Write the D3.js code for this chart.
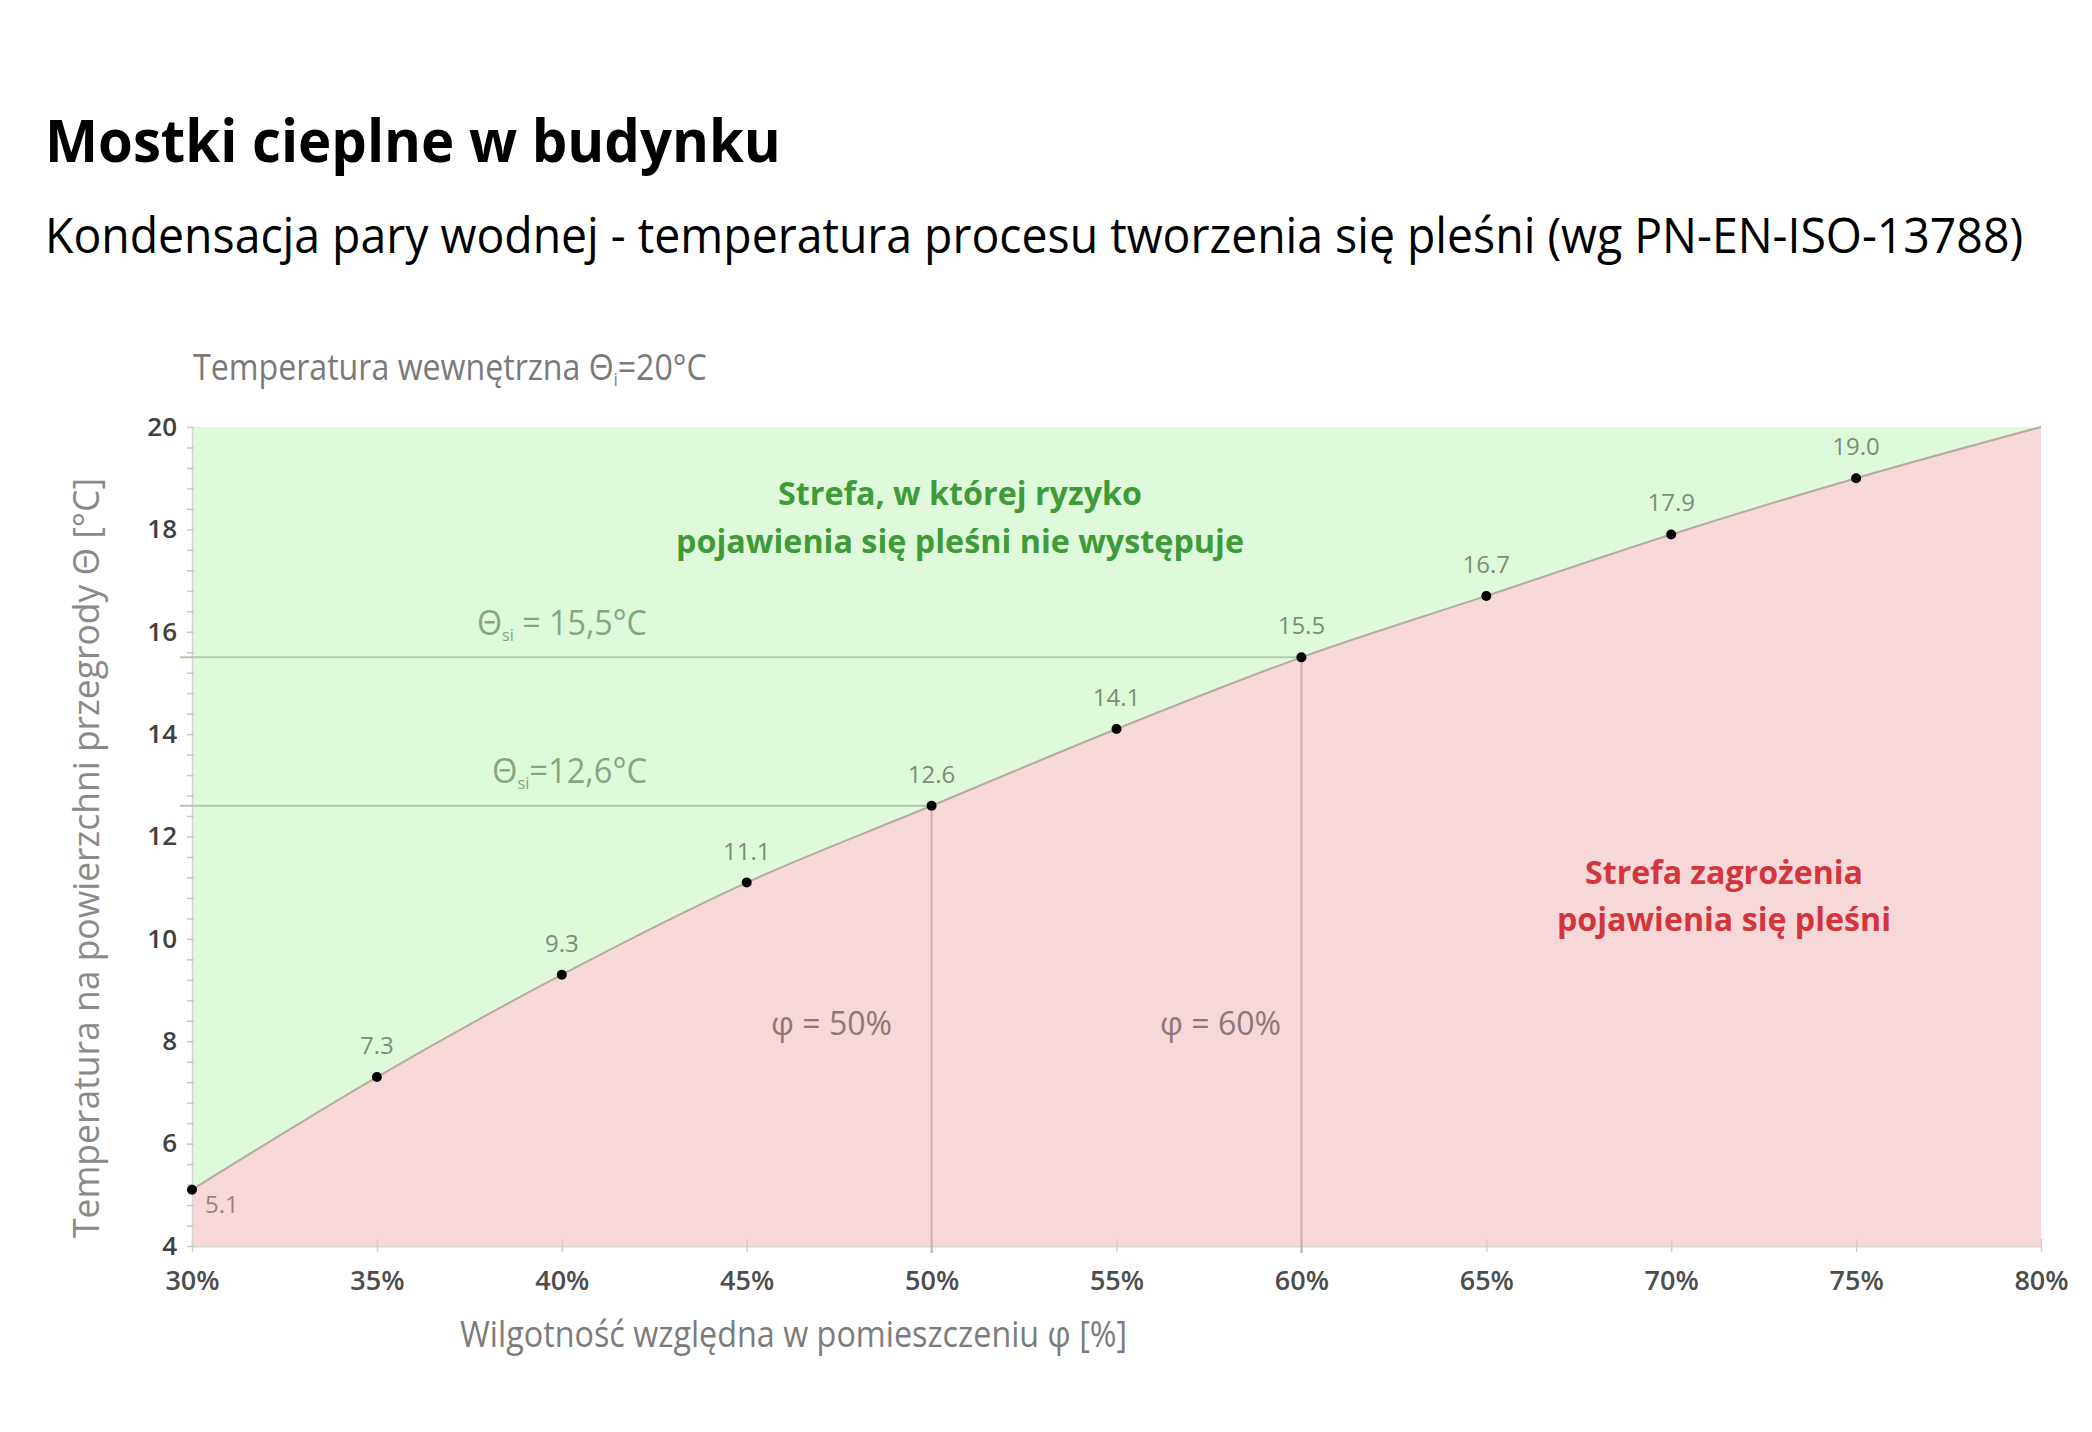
<!DOCTYPE html>
<html>
<head>
<meta charset="utf-8">
<script src="https://cdn.jsdelivr.net/npm/d3@7"></script>
<style>
  body { margin: 0; background: #fff; }
  svg text { font-family: "Open Sans", sans-serif; }
</style>
</head>
<body>
<div id="container"></div>
<script>
/*** DATA ***/
const humidity = [30, 35, 40, 45, 50, 55, 60, 65, 70, 75, 80];
const moldTemp = [5.1, 7.3, 9.3, 11.1, 12.6, 14.1, 15.5, 16.7, 17.9, 19.0, 20.0];
const dotCount = 10; // 80% point has no marker
const xTicks = [30, 35, 40, 45, 50, 55, 60, 65, 70, 75, 80];
const yTicks = [4, 6, 8, 10, 12, 14, 16, 18, 20];
const refHumidity = [50, 60];
const refTemp = [12.6, 15.5];

const title = "Mostki cieplne w budynku";
const subtitle = "Kondensacja pary wodnej - temperatura procesu tworzenia się pleśni (wg PN-EN-ISO-13788)";
const xTitle = "Wilgotność względna w pomieszczeniu φ [%]";
const yTitle = "Temperatura na powierzchni przegrody Θ [°C]";
const greenNote = ["Strefa, w której ryzyko", "pojawienia się pleśni nie występuje"];
const redNote = ["Strefa zagrożenia", "pojawienia się pleśni"];

/*** LAYOUT ***/
const width = 2092, height = 1432;
const margin = { top: 427, right: 51, bottom: 186, left: 192 };

const svg = d3.select("#container").append("svg")
  .attr("width", width)
  .attr("height", height);

const x = d3.scaleLinear().domain([30, 80]).range([margin.left, width - margin.right]);
const y = d3.scaleLinear().domain([4, 20]).range([height - margin.bottom, margin.top]);

const pts = humidity.map((h, i) => ({ h, t: moldTemp[i] }));

// squeeze plain text to a measured width
function fit(sel, w) {
  return sel.attr("textLength", w).attr("lengthAdjust", "spacingAndGlyphs");
}
// squeeze text horizontally with a transform, anchored at its left edge
function squeeze(t, x0, y0, w) {
  const bw = t.node().getBBox().width;
  t.attr("x", 0).attr("y", 0)
    .attr("transform", `translate(${x0},${y0}) scale(${w / bw},1)`);
}

// titles
const tt = svg.append("text").text(title)
  .style("font-size", "60px").style("font-weight", 700).attr("fill", "#000");
squeeze(tt, 45, 162, 736);

const st = svg.append("text").text(subtitle)
  .style("font-size", "49px").attr("fill", "#000");
squeeze(st, 45, 253, 1979);

// background zones
svg.append("rect")
  .attr("x", x(30)).attr("y", y(20))
  .attr("width", x(80) - x(30)).attr("height", y(4) - y(20))
  .attr("fill", "#defadb");

const area = d3.area()
  .x(d => x(d.h)).y0(y(4)).y1(d => y(d.t))
  .curve(d3.curveMonotoneX);

svg.append("path").datum(pts)
  .attr("d", area)
  .attr("fill", "#f7d8d8");

// axes
const xAxis = svg.append("g")
  .attr("transform", `translate(0,${y(4)})`)
  .call(d3.axisBottom(x).tickValues(xTicks).tickFormat(d => d + "%")
    .tickSizeInner(6).tickSizeOuter(0).tickPadding(19));
xAxis.select(".domain").attr("stroke", "#d6d6d6").attr("stroke-width", 2);
xAxis.selectAll(".tick line").attr("y1", -7).attr("stroke", "#cfcfcf").attr("stroke-width", 1.5);
xAxis.selectAll(".tick text")
  .style("font-family", "'Open Sans', sans-serif")
  .style("font-size", "27px").style("font-weight", 600).attr("fill", "#4d4d4d");

const yMinor = svg.append("g")
  .attr("transform", `translate(${x(30)},0)`)
  .call(d3.axisLeft(y).tickValues(d3.range(0, 41).map(i => 4 + i * 0.4))
    .tickFormat("").tickSizeInner(5).tickSizeOuter(0));
yMinor.select(".domain").attr("stroke", "#d6d6d6").attr("stroke-width", 1.5);
yMinor.selectAll(".tick line").attr("x2", -5).attr("x1", 2).attr("stroke", "#c8c8c8").attr("stroke-width", 1.5);

const yAxis = svg.append("g")
  .attr("transform", `translate(${x(30)},0)`)
  .call(d3.axisLeft(y).tickValues(yTicks).tickSizeInner(0).tickSizeOuter(0).tickPadding(15));
yAxis.select(".domain").remove();
yAxis.selectAll(".tick text")
  .style("font-family", "'Open Sans', sans-serif")
  .style("font-size", "26px").style("font-weight", 600).attr("fill", "#404040");

// reference lines
refTemp.forEach((t, i) => {
  svg.append("line")
    .attr("x1", x(30) - 12).attr("x2", x(refHumidity[i]))
    .attr("y1", y(t)).attr("y2", y(t))
    .attr("stroke", "#b2caab").attr("stroke-width", 2);
  svg.append("line")
    .attr("x1", x(refHumidity[i])).attr("x2", x(refHumidity[i]))
    .attr("y1", y(t)).attr("y2", y(4) + 7)
    .attr("stroke", "#cdb0b4").attr("stroke-width", 2);
});

// curve
const line = d3.line().x(d => x(d.h)).y(d => y(d.t)).curve(d3.curveMonotoneX);
svg.append("path").datum(pts)
  .attr("d", line)
  .attr("fill", "none")
  .attr("stroke", "#b7aaa2")
  .attr("stroke-width", 2);

// dots and value labels
const marked = pts.slice(0, dotCount);
svg.selectAll(".dot").data(marked).join("circle")
  .attr("class", "dot")
  .attr("cx", d => x(d.h)).attr("cy", d => y(d.t))
  .attr("r", 5).attr("fill", "#000");

svg.selectAll(".val").data(marked).join("text")
  .attr("class", "val")
  .attr("x", (d, i) => i === 0 ? x(d.h) + 13 : x(d.h))
  .attr("y", (d, i) => i === 0 ? y(d.t) + 23 : y(d.t) - 23)
  .attr("text-anchor", (d, i) => i === 0 ? "start" : "middle")
  .style("font-size", "24px")
  .attr("fill", (d, i) => i === 0 ? "#9a7f87" : "#7b8d78")
  .text(d => d.t.toFixed(1));

// reference annotations
function thetaLabel(tx, ty, rest, w) {
  const t = svg.append("text")
    .style("font-size", "34px").attr("fill", "#86a583");
  t.append("tspan").text("Θ");
  t.append("tspan").text("si").style("font-size", "17px").attr("dy", 6);
  t.append("tspan").text(rest).attr("dy", -6);
  squeeze(t, tx, ty, w);
}
thetaLabel(477, y(15.5) - 22, " = 15,5°C", 170);
thetaLabel(492, y(12.6) - 23, "=12,6°C", 155);

const phiEnd = [892, 1281];
refHumidity.forEach((h, i) => {
  svg.append("text")
    .attr("x", phiEnd[i]).attr("y", 1035)
    .attr("text-anchor", "end")
    .style("font-size", "32px").attr("fill", "#8c777b")
    .text(`φ = ${h}%`)
    .call(fit, 121);
});

// zone notes
greenNote.forEach((s, i) => {
  svg.append("text").text(s)
    .attr("x", 960).attr("y", 505 + i * 48)
    .attr("text-anchor", "middle")
    .style("font-size", "33px").style("font-weight", 700).attr("fill", "#3f9b38")
    .call(fit, i === 0 ? 364 : 568);
});
redNote.forEach((s, i) => {
  svg.append("text").text(s)
    .attr("x", 1724).attr("y", 884 + i * 47)
    .attr("text-anchor", "middle")
    .style("font-size", "33px").style("font-weight", 700).attr("fill", "#d2353b")
    .call(fit, i === 0 ? 278 : 334);
});

// chart header and axis titles
const head = svg.append("text")
  .style("font-size", "37px").attr("fill", "#7a7a7a");
head.append("tspan").text("Temperatura wewnętrzna Θ");
head.append("tspan").text("i").style("font-size", "18px").attr("dy", 6);
head.append("tspan").text("=20°C").attr("dy", -6);
squeeze(head, 193, 380, 514);

svg.append("text").text(xTitle)
  .attr("x", 460).attr("y", 1347)
  .style("font-size", "37px").attr("fill", "#7c7c7c")
  .call(fit, 667);

svg.append("text").text(yTitle)
  .attr("transform", `translate(99,858) rotate(-90)`)
  .attr("text-anchor", "middle")
  .style("font-size", "37px").attr("fill", "#8a8a8a")
  .call(fit, 760);
</script>
</body>
</html>
